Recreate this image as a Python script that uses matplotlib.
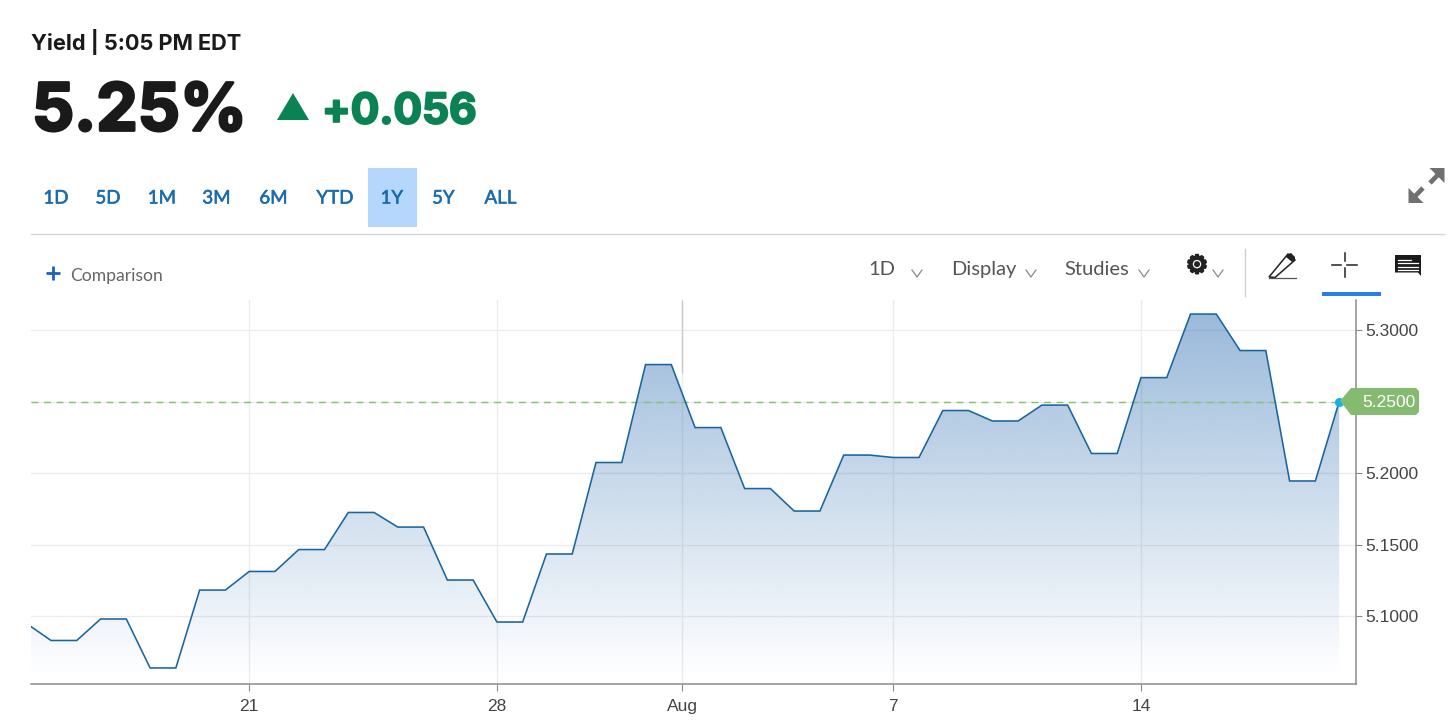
import numpy as np
import matplotlib
matplotlib.use("Agg")
import matplotlib.pyplot as plt
import matplotlib.patheffects as pe
from matplotlib.patches import Polygon, Rectangle
from matplotlib.colors import to_rgb

# ---- data ----
yields = [5.0947, 5.0832, 5.0982, 5.0640, 5.1184, 5.1314, 5.1467, 5.1726, 5.1624,
          5.1254, 5.0961, 5.1436, 5.2075, 5.2759, 5.2319, 5.1893, 5.1736, 5.2127,
          5.2110, 5.2438, 5.2365, 5.2476, 5.2138, 5.2668, 5.3112, 5.2857, 5.1946, 5.2500]
first_index = -1
x_tick_pos = [4, 9, 12.74, 17, 22]
x_tick_labels = ["21", "28", "Aug", "7", "14"]
y_ticks = [5.10, 5.15, 5.20, 5.25, 5.30]
y_tick_labels = ["5.1000", "5.1500", "5.2000", "", "5.3000"]
last_value = 5.25
range_buttons = ["1D", "5D", "1M", "3M", "6M", "YTD", "1Y", "5Y", "ALL"]
button_x = [56, 108, 162, 216.5, 273.5, 335, 392, 443.5, 500.5]
toolbar_labels = ["1D", "Display", "Studies"]
toolbar_x = [868, 951, 1064]
chevron_x = [917, 1031, 1144, 1218]

W, H = 1456, 723
fig = plt.figure(figsize=(W / 100, H / 100), dpi=100, facecolor="white")
plt.rcParams["font.family"] = ["Lato", "DejaVu Sans"]

# ---- main chart axes (pixels 31..1356, 300..684) ----
L, R, T, B = 31, 1356, 300, 684
ax = fig.add_axes([L / W, 1 - B / H, (R - L) / W, (B - T) / H])
ax.set_facecolor("none")
XLIM = (-0.404, 26.34)
YLIM = (5.0528, 5.3210)

days = np.arange(first_index, first_index + len(yields))
HOLD = 0.52
xs, ys = [], []
for d, v in zip(days, yields):
    xs.append(d); ys.append(v)
    if d != days[-1]:
        xs.append(d + HOLD); ys.append(v)
xs, ys = np.array(xs), np.array(ys)

ax.set_axisbelow(True)
ax.grid(True, color="#ececec", lw=1.0)
ax.vlines(x_tick_pos[2], 5.27, YLIM[1], color="#c9c9c9", lw=1.0, zorder=1)

# gradient fill
rgb = to_rgb("#2468AE")
grad = np.zeros((256, 1, 4))
grad[..., 0], grad[..., 1], grad[..., 2] = rgb
grad[..., 3] = np.linspace(0.46, 0.0, 256).reshape(-1, 1)
im = ax.imshow(grad, extent=[XLIM[0], XLIM[1], 5.058, max(ys)], origin="upper",
               aspect="auto", zorder=2, interpolation="bilinear")
poly = Polygon(np.column_stack([np.r_[xs, xs[-1], xs[0]], np.r_[ys, YLIM[0], YLIM[0]]]),
               closed=True, transform=ax.transData, fc="none", ec="none")
ax.add_patch(poly)
im.set_clip_path(poly)

ax.axhline(last_value, color="#84c46c", lw=1.0, dashes=(5, 4), zorder=3)
ax.plot(xs, ys, color="#1a659f", lw=1.15, zorder=4, solid_joinstyle="miter")
ax.plot([days[-1]], [last_value], "o", color="#12b0f0", ms=6.5, mec="none", zorder=5, clip_on=False)

ax.set_xlim(*XLIM); ax.set_ylim(*YLIM)
ax.set_xticks(x_tick_pos); ax.set_xticklabels(x_tick_labels)
ax.set_yticks(y_ticks); ax.set_yticklabels(y_tick_labels)
ax.yaxis.tick_right()
ax.tick_params(axis="y", length=4, width=0.8, color="#8a8a8a", pad=2.5, labelsize=12.5,
               labelcolor="#444444")
ax.tick_params(axis="x", length=5, width=0.8, color="#8a8a8a", pad=6, labelsize=12.5,
               labelcolor="#444444")
for lab in ax.get_xticklabels() + ax.get_yticklabels():
    lab.set_family("Liberation Sans")
for s in ("top", "left"):
    ax.spines[s].set_visible(False)
for s in ("right", "bottom"):
    ax.spines[s].set_color("#8a8a8a"); ax.spines[s].set_linewidth(1.1)

# ---- page furniture, in pixel coordinates ----
ov = fig.add_axes([0, 0, 1, 1], zorder=10)
ov.set_xlim(0, W); ov.set_ylim(H, 0); ov.axis("off"); ov.patch.set_alpha(0)

ov.text(31, 42, "Yield | 5:05 PM EDT", fontsize=15.7, fontweight="bold", color="#1a1a1a",
        va="center", ha="left", family="Inter")
t1 = ov.text(32, 113, "5.25%", fontsize=47.5, fontweight="bold", color="#1a1a1a",
             va="center", ha="left", family="Inter")
t1.set_path_effects([pe.withStroke(linewidth=2.0, foreground="#1a1a1a")])
ov.add_patch(Polygon([[277, 120], [309, 120], [293, 93]], closed=True, fc="#0a8254", ec="none"))
t2 = ov.text(322, 112, "+0.056", fontsize=30.5, fontweight="bold", color="#0a8254",
             va="center", ha="left", family="Inter")
t2.set_path_effects([pe.withStroke(linewidth=1.5, foreground="#0a8254")])

ov.add_patch(Rectangle((368, 168), 48.5, 59, fc="#b5d7fd", ec="none"))
for lab, x in zip(range_buttons, button_x):
    t = ov.text(x, 198, lab, fontsize=13.5, color="#1b6cad", ha="center", va="center", family="Lato")
    t.set_path_effects([pe.withStroke(linewidth=0.4, foreground="#1b6cad")])
ov.plot([31, 1444], [233.5, 233.5], color="#d6d6d6", lw=1.0)

# expand icon
def expand_arrow(tip, base):
    tip, base = np.array(tip, float), np.array(base, float)
    u = (tip - base) / np.linalg.norm(tip - base)
    ov.plot([base[0], tip[0] - u[0] * 6], [base[1], tip[1] - u[1] * 6], color="#707070", lw=3.4,
            solid_capstyle="butt")
    ov.add_patch(Polygon([[tip[0], tip[1]], [tip[0] - np.sign(u[0]) * 15, tip[1]],
                          [tip[0], tip[1] - np.sign(u[1]) * 15]], closed=True, fc="#707070", ec="none"))
expand_arrow((1444.5, 168), (1430, 183))
expand_arrow((1408.5, 203), (1423, 188))

# comparison
ov.plot([46, 60], [273, 273], color="#1a5fc8", lw=2.0, solid_capstyle="butt")
ov.plot([53, 53], [266, 280], color="#1a5fc8", lw=2.0, solid_capstyle="butt")
ov.text(70, 275.5, "Comparison", fontsize=12.6, color="#666666", va="center", ha="left", family="Lato")

# toolbar
for lab, x in zip(toolbar_labels, toolbar_x):
    ov.text(x, 269.5, lab, fontsize=14.5, color="#555555", va="center", ha="left", family="Lato")
for x in chevron_x:
    ov.plot([x - 5, x, x + 5], [270, 277, 270], color="#888888", lw=0.9)
g = ov.text(1197, 266, "\u2699", fontsize=18, color="#222222", ha="center", va="center", family="DejaVu Sans")
g.set_path_effects([pe.withStroke(linewidth=1.6, foreground="#222222")])
ov.plot([1245, 1245], [249, 296], color="#d0d0d0", lw=1.0)

# pencil
ov.add_patch(Polygon([[1269, 277], [1288, 254], [1295, 260], [1275, 277.5]], closed=True,
                     fc="white", ec="#222222", lw=1.1))
ov.add_patch(Polygon([[1288, 254], [1291, 253], [1295, 257], [1295, 260], [1292, 262], [1286, 257]],
                     closed=True, fc="#222222", ec="none"))
ov.plot([1269, 1296], [278, 278], color="#555555", lw=0.9)

# crosshair
ov.plot([1332, 1341], [265, 265], color="#222222", lw=1.1)
ov.plot([1347, 1357], [265, 265], color="#222222", lw=1.1)
ov.plot([1344.5, 1344.5], [253, 261], color="#222222", lw=1.1)
ov.plot([1344.5, 1344.5], [268, 277], color="#222222", lw=1.1)
ov.add_patch(Rectangle((1322, 292), 59, 4, fc="#2a7de9", ec="none"))

# chat icon
ov.add_patch(Polygon([[1395, 255], [1421, 255], [1421, 276], [1418, 272.5], [1395, 272.5]], closed=True,
                     fc="#1a1a1a", ec="none"))
for yy, xe in zip([259.5, 263, 266.5, 270], [1411, 1418, 1418, 1418]):
    ov.plot([1398, xe], [yy, yy], color="white", lw=0.9)

# last value flag
ov.add_patch(Polygon([[1340, 401], [1351, 388], [1416, 388], [1419, 391], [1419, 412], [1416, 415],
                      [1351, 415]], closed=True, fc="#85bb70", ec="none"))
ov.text(1388.5, 402.5, f"{last_value:.4f}", fontsize=12.5, color="white", ha="center", va="center",
        family="Liberation Sans")

fig.savefig("out.png", dpi=100, facecolor="white")
